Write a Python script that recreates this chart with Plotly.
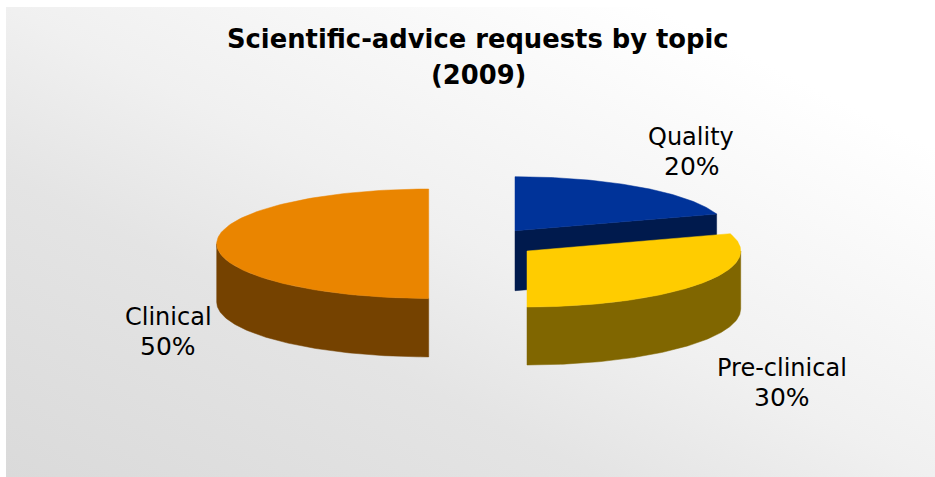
import math
import urllib.parse
import plotly.graph_objects as go

# Data
categories = ["Quality", "Pre-clinical", "Clinical"]
shares = [20, 30, 50]
title_lines = ["Scientific-advice requests by topic", "(2009)"]

# Styling / geometry of the 3-D exploded pie
top_colors = ["#003399", "#FFCC00", "#EA8500"]
side_colors = ["#001A4D", "#806600", "#754200"]
centers = [(515, 230.7), (527, 251), (428.7, 243.7)]
radii_x = [212, 213.7, 212]
radii_y = [54, 56, 54.7]
depths = [60, 58, 58.5]
name_pos = [(690.5, 136.5), (781.5, 368), (168, 316.5)]
pct_pos = [(691.5, 166), (781.5, 397), (167.5, 346)]
title_pos = [(477.5, 39), (478, 75)]

W, H = 935, 477


def arc(cx, cy, rx, ry, a0, a1, dy=0, n=120):
    pts = []
    for i in range(n + 1):
        a = math.radians(a0 + (a1 - a0) * i / n)
        pts.append((cx + rx * math.sin(a), cy - ry * math.cos(a) + dy))
    return pts


fig = go.Figure()


def poly(pts, color, name):
    fig.add_trace(go.Scatter(
        x=[p[0] for p in pts] + [pts[0][0]],
        y=[p[1] for p in pts] + [pts[0][1]],
        mode="lines", fill="toself", fillcolor=color,
        line=dict(color=color, width=0.5),
        hoverinfo="text", text=name, showlegend=False,
    ))


total = sum(shares)
spans = []
acc = 0
for v in shares:
    spans.append((acc / total * 360, (acc + v) / total * 360))
    acc += v

for i in range(len(shares)):
    a0, a1 = spans[i]
    cx, cy = centers[i]
    rx, ry, d = radii_x[i], radii_y[i], depths[i]
    name = f"{categories[i]} {shares[i]}%"
    # outer wall: only the part facing the viewer
    s0, s1 = max(a0, 90), min(a1, 270)
    if s1 > s0:
        upper = arc(cx, cy, rx, ry, s0, s1)
        lower = arc(cx, cy, rx, ry, s0, s1, d)
        poly(upper + lower[::-1], side_colors[i], name)
    # cut wall facing the viewer
    if a1 < 90:
        e = arc(cx, cy, rx, ry, a1, a1, n=1)[0]
        poly([(cx, cy), e, (e[0], e[1] + d), (cx, cy + d)], side_colors[i], name)
    # top face
    poly([(cx, cy)] + arc(cx, cy, rx, ry, a0, a1), top_colors[i], name)


def note(pos, text, size):
    return dict(x=pos[0], y=pos[1], xref="x", yref="y", text=text, showarrow=False,
                xanchor="center", yanchor="middle",
                font=dict(family="DejaVu Sans", size=size, color="#000000"))


annotations = []
for i in range(len(shares)):
    annotations.append(note(name_pos[i], categories[i], 24))
    annotations.append(note(pct_pos[i], f"{shares[i]}%", 25))
for pos, line in zip(title_pos, title_lines):
    annotations.append(note(pos, f"<b>{line}</b>", 25.8))

svg = (
    f'<svg xmlns="http://www.w3.org/2000/svg" width="{W}" height="{H}">'
    '<defs><linearGradient id="g" x1="1" y1="0" x2="0" y2="1">'
    '<stop offset="0.15" stop-color="#ffffff"/>'
    '<stop offset="0.5" stop-color="#f0f0f0"/>'
    '<stop offset="0.68" stop-color="#e4e4e4"/>'
    '<stop offset="1" stop-color="#dadada"/></linearGradient></defs>'
    f'<rect width="{W}" height="{H}" fill="url(#g)"/></svg>'
)

fig.update_layout(
    width=W, height=H, margin=dict(l=0, r=0, t=0, b=0),
    paper_bgcolor="white", plot_bgcolor="rgba(0,0,0,0)", showlegend=False,
    xaxis=dict(range=[0, W], visible=False, fixedrange=True),
    yaxis=dict(range=[H, 0], visible=False, fixedrange=True),
    annotations=annotations,
    images=[dict(
        source="data:image/svg+xml," + urllib.parse.quote(svg),
        xref="x", yref="y", x=6, y=7, sizex=W - 6, sizey=H - 7,
        sizing="stretch", xanchor="left", yanchor="top", layer="below")],
)

fig.write_html("out.html", config=dict(displayModeBar=False),
               post_script="document.body.style.margin='0';document.body.style.overflow='hidden';")
